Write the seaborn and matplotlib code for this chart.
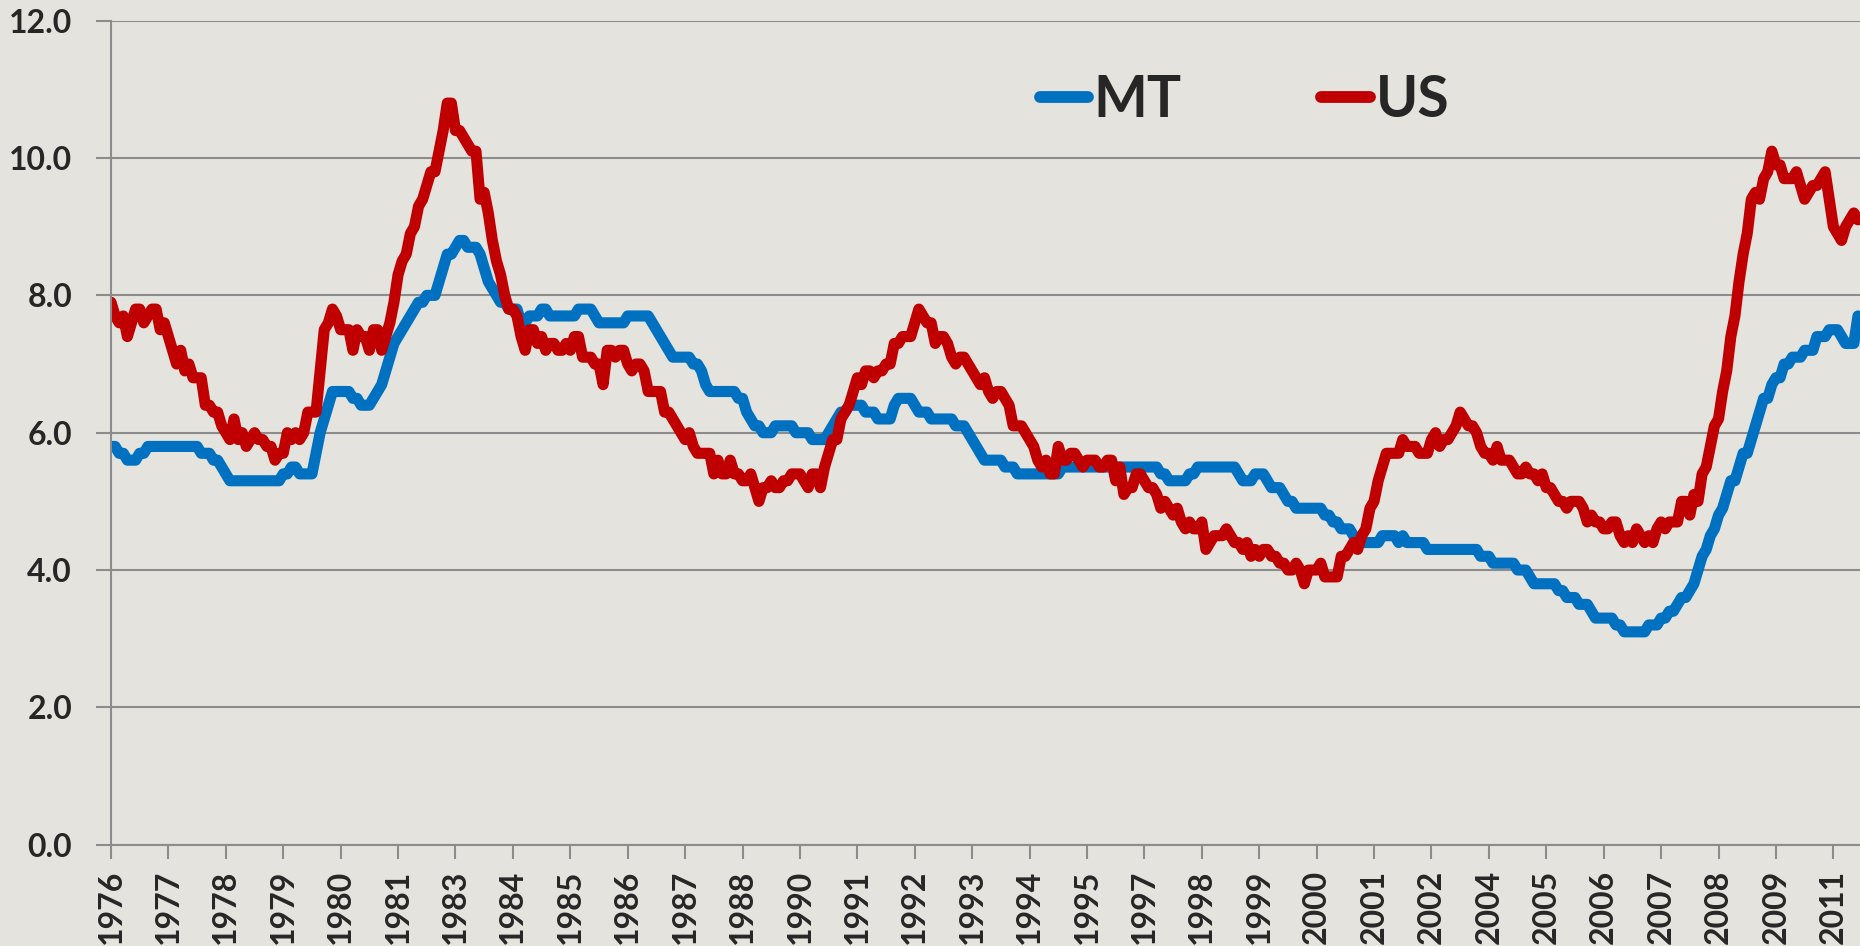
import numpy as np
import pandas as pd
import matplotlib
matplotlib.use("Agg")
import matplotlib.pyplot as plt
import seaborn as sns
from matplotlib.lines import Line2D

# monthly unemployment rate, Jan 1976 .. Jul 2011
mt = [
    5.8, 5.8, 5.7, 5.7, 5.6, 5.6, 5.6, 5.7, 5.7, 5.8, 5.8, 5.8,  # 1976
    5.8, 5.8, 5.8, 5.8, 5.8, 5.8, 5.8, 5.8, 5.8, 5.8, 5.7, 5.7,  # 1977
    5.7, 5.6, 5.6, 5.5, 5.4, 5.3, 5.3, 5.3, 5.3, 5.3, 5.3, 5.3,  # 1978
    5.3, 5.3, 5.3, 5.3, 5.3, 5.3, 5.4, 5.4, 5.5, 5.5, 5.4, 5.4,  # 1979
    5.4, 5.4, 5.7, 6.0, 6.2, 6.4, 6.6, 6.6, 6.6, 6.6, 6.6, 6.5,  # 1980
    6.5, 6.4, 6.4, 6.4, 6.5, 6.6, 6.7, 6.9, 7.1, 7.3, 7.4, 7.5,  # 1981
    7.6, 7.7, 7.8, 7.9, 7.9, 8.0, 8.0, 8.0, 8.2, 8.4, 8.6, 8.6,  # 1982
    8.7, 8.8, 8.8, 8.7, 8.7, 8.7, 8.6, 8.4, 8.2, 8.1, 8.0, 7.9,  # 1983
    7.9, 7.8, 7.8, 7.8, 7.6, 7.6, 7.7, 7.7, 7.7, 7.8, 7.8, 7.7,  # 1984
    7.7, 7.7, 7.7, 7.7, 7.7, 7.7, 7.8, 7.8, 7.8, 7.8, 7.7, 7.6,  # 1985
    7.6, 7.6, 7.6, 7.6, 7.6, 7.6, 7.7, 7.7, 7.7, 7.7, 7.7, 7.7,  # 1986
    7.6, 7.5, 7.4, 7.3, 7.2, 7.1, 7.1, 7.1, 7.1, 7.1, 7.0, 7.0,  # 1987
    6.9, 6.7, 6.6, 6.6, 6.6, 6.6, 6.6, 6.6, 6.6, 6.5, 6.5, 6.3,  # 1988
    6.2, 6.1, 6.1, 6.0, 6.0, 6.0, 6.1, 6.1, 6.1, 6.1, 6.1, 6.0,  # 1989
    6.0, 6.0, 6.0, 5.9, 5.9, 5.9, 5.9, 6.0, 6.1, 6.2, 6.3, 6.3,  # 1990
    6.4, 6.4, 6.4, 6.4, 6.3, 6.3, 6.3, 6.2, 6.2, 6.2, 6.2, 6.4,  # 1991
    6.5, 6.5, 6.5, 6.5, 6.4, 6.3, 6.3, 6.3, 6.2, 6.2, 6.2, 6.2,  # 1992
    6.2, 6.2, 6.1, 6.1, 6.1, 6.0, 5.9, 5.8, 5.7, 5.6, 5.6, 5.6,  # 1993
    5.6, 5.6, 5.5, 5.5, 5.5, 5.4, 5.4, 5.4, 5.4, 5.4, 5.4, 5.4,  # 1994
    5.4, 5.4, 5.4, 5.4, 5.5, 5.5, 5.5, 5.5, 5.5, 5.5, 5.5, 5.5,  # 1995
    5.5, 5.5, 5.5, 5.5, 5.5, 5.5, 5.5, 5.5, 5.5, 5.5, 5.5, 5.5,  # 1996
    5.5, 5.5, 5.5, 5.5, 5.4, 5.4, 5.3, 5.3, 5.3, 5.3, 5.3, 5.4,  # 1997
    5.4, 5.5, 5.5, 5.5, 5.5, 5.5, 5.5, 5.5, 5.5, 5.5, 5.5, 5.4,  # 1998
    5.3, 5.3, 5.3, 5.4, 5.4, 5.4, 5.3, 5.2, 5.2, 5.2, 5.1, 5.0,  # 1999
    5.0, 4.9, 4.9, 4.9, 4.9, 4.9, 4.9, 4.9, 4.8, 4.8, 4.7, 4.7,  # 2000
    4.6, 4.6, 4.6, 4.5, 4.4, 4.4, 4.4, 4.4, 4.4, 4.4, 4.5, 4.5,  # 2001
    4.5, 4.5, 4.4, 4.5, 4.4, 4.4, 4.4, 4.4, 4.4, 4.3, 4.3, 4.3,  # 2002
    4.3, 4.3, 4.3, 4.3, 4.3, 4.3, 4.3, 4.3, 4.3, 4.3, 4.2, 4.2,  # 2003
    4.2, 4.1, 4.1, 4.1, 4.1, 4.1, 4.1, 4.0, 4.0, 4.0, 3.9, 3.8,  # 2004
    3.8, 3.8, 3.8, 3.8, 3.8, 3.7, 3.7, 3.6, 3.6, 3.6, 3.5, 3.5,  # 2005
    3.5, 3.4, 3.3, 3.3, 3.3, 3.3, 3.3, 3.2, 3.2, 3.1, 3.1, 3.1,  # 2006
    3.1, 3.1, 3.1, 3.2, 3.2, 3.2, 3.3, 3.3, 3.4, 3.4, 3.5, 3.6,  # 2007
    3.6, 3.7, 3.8, 4.0, 4.2, 4.3, 4.5, 4.6, 4.8, 4.9, 5.1, 5.3,  # 2008
    5.3, 5.5, 5.7, 5.7, 5.9, 6.1, 6.3, 6.5, 6.5, 6.7, 6.8, 6.8,  # 2009
    7.0, 7.0, 7.1, 7.1, 7.1, 7.2, 7.2, 7.2, 7.4, 7.4, 7.4, 7.5,  # 2010
    7.5, 7.5, 7.4, 7.3, 7.3, 7.3, 7.7,                           # 2011
]

us = [
    7.9, 7.7, 7.6, 7.7, 7.4, 7.6, 7.8, 7.8, 7.6, 7.7, 7.8, 7.8,  # 1976
    7.5, 7.6, 7.4, 7.2, 7.0, 7.2, 6.9, 7.0, 6.8, 6.8, 6.8, 6.4,  # 1977
    6.4, 6.3, 6.3, 6.1, 6.0, 5.9, 6.2, 5.9, 6.0, 5.8, 5.9, 6.0,  # 1978
    5.9, 5.9, 5.8, 5.8, 5.6, 5.7, 5.7, 6.0, 5.9, 6.0, 5.9, 6.0,  # 1979
    6.3, 6.3, 6.3, 6.9, 7.5, 7.6, 7.8, 7.7, 7.5, 7.5, 7.5, 7.2,  # 1980
    7.5, 7.4, 7.4, 7.2, 7.5, 7.5, 7.2, 7.4, 7.6, 7.9, 8.3, 8.5,  # 1981
    8.6, 8.9, 9.0, 9.3, 9.4, 9.6, 9.8, 9.8, 10.1, 10.4, 10.8, 10.8,  # 1982
    10.4, 10.4, 10.3, 10.2, 10.1, 10.1, 9.4, 9.5, 9.2, 8.8, 8.5, 8.3,  # 1983
    8.0, 7.8, 7.8, 7.7, 7.4, 7.2, 7.5, 7.5, 7.3, 7.4, 7.2, 7.3,  # 1984
    7.3, 7.2, 7.2, 7.3, 7.2, 7.4, 7.4, 7.1, 7.1, 7.1, 7.0, 7.0,  # 1985
    6.7, 7.2, 7.2, 7.1, 7.2, 7.2, 7.0, 6.9, 7.0, 7.0, 6.9, 6.6,  # 1986
    6.6, 6.6, 6.6, 6.3, 6.3, 6.2, 6.1, 6.0, 5.9, 6.0, 5.8, 5.7,  # 1987
    5.7, 5.7, 5.7, 5.4, 5.6, 5.4, 5.4, 5.6, 5.4, 5.4, 5.3, 5.3,  # 1988
    5.4, 5.2, 5.0, 5.2, 5.2, 5.3, 5.2, 5.2, 5.3, 5.3, 5.4, 5.4,  # 1989
    5.4, 5.3, 5.2, 5.4, 5.4, 5.2, 5.5, 5.7, 5.9, 5.9, 6.2, 6.3,  # 1990
    6.4, 6.6, 6.8, 6.7, 6.9, 6.9, 6.8, 6.9, 6.9, 7.0, 7.0, 7.3,  # 1991
    7.3, 7.4, 7.4, 7.4, 7.6, 7.8, 7.7, 7.6, 7.6, 7.3, 7.4, 7.4,  # 1992
    7.3, 7.1, 7.0, 7.1, 7.1, 7.0, 6.9, 6.8, 6.7, 6.8, 6.6, 6.5,  # 1993
    6.6, 6.6, 6.5, 6.4, 6.1, 6.1, 6.1, 6.0, 5.9, 5.8, 5.6, 5.5,  # 1994
    5.6, 5.4, 5.4, 5.8, 5.6, 5.6, 5.7, 5.7, 5.6, 5.5, 5.6, 5.6,  # 1995
    5.6, 5.5, 5.5, 5.6, 5.6, 5.3, 5.5, 5.1, 5.2, 5.2, 5.4, 5.4,  # 1996
    5.3, 5.2, 5.2, 5.1, 4.9, 5.0, 4.9, 4.8, 4.9, 4.7, 4.6, 4.7,  # 1997
    4.6, 4.6, 4.7, 4.3, 4.4, 4.5, 4.5, 4.5, 4.6, 4.5, 4.4, 4.4,  # 1998
    4.3, 4.4, 4.2, 4.3, 4.2, 4.3, 4.3, 4.2, 4.2, 4.1, 4.1, 4.0,  # 1999
    4.0, 4.1, 4.0, 3.8, 4.0, 4.0, 4.0, 4.1, 3.9, 3.9, 3.9, 3.9,  # 2000
    4.2, 4.2, 4.3, 4.4, 4.3, 4.5, 4.6, 4.9, 5.0, 5.3, 5.5, 5.7,  # 2001
    5.7, 5.7, 5.7, 5.9, 5.8, 5.8, 5.8, 5.7, 5.7, 5.7, 5.9, 6.0,  # 2002
    5.8, 5.9, 5.9, 6.0, 6.1, 6.3, 6.2, 6.1, 6.1, 6.0, 5.8, 5.7,  # 2003
    5.7, 5.6, 5.8, 5.6, 5.6, 5.6, 5.5, 5.4, 5.4, 5.5, 5.4, 5.4,  # 2004
    5.3, 5.4, 5.2, 5.2, 5.1, 5.0, 5.0, 4.9, 5.0, 5.0, 5.0, 4.9,  # 2005
    4.7, 4.8, 4.7, 4.7, 4.6, 4.6, 4.7, 4.7, 4.5, 4.4, 4.5, 4.4,  # 2006
    4.6, 4.5, 4.4, 4.5, 4.4, 4.6, 4.7, 4.6, 4.7, 4.7, 4.7, 5.0,  # 2007
    5.0, 4.8, 5.1, 5.0, 5.4, 5.5, 5.8, 6.1, 6.2, 6.6, 6.9, 7.4,  # 2008
    7.7, 8.2, 8.6, 8.9, 9.4, 9.5, 9.4, 9.7, 9.8, 10.1, 9.9, 9.9,  # 2009
    9.7, 9.7, 9.7, 9.8, 9.6, 9.4, 9.5, 9.6, 9.6, 9.7, 9.8, 9.4,  # 2010
    9.0, 8.9, 8.8, 9.0, 9.1, 9.2, 9.1,                           # 2011
]

series_names = ["MT", "US"]
series_colors = {"MT": "#0070C0", "US": "#C00000"}

# one label every 14 months, as in the original category axis
tick_step = 14
x_labels = ["1976", "1977", "1978", "1979", "1980", "1981", "1983", "1984",
            "1985", "1986", "1987", "1988", "1990", "1991", "1992", "1993",
            "1994", "1995", "1997", "1998", "1999", "2000", "2001", "2002",
            "2004", "2005", "2006", "2007", "2008", "2009", "2011"]
y_ticks = [0, 2, 4, 6, 8, 10, 12]
y_labels = ["0.0", "2.0", "4.0", "6.0", "8.0", "10.0", "12.0"]

df = pd.DataFrame({"month": np.arange(len(us)), "MT": mt, "US": us})
df_long = df.melt(id_vars="month", var_name="series", value_name="rate")

bg = "#E4E3DD"
grid_col = "#8C8C8C"

sns.set_style("whitegrid", {"axes.facecolor": bg, "figure.facecolor": bg,
                            "grid.color": grid_col})
plt.rcParams["font.family"] = ["Lato", "DejaVu Sans"]
plt.rcParams["font.weight"] = "bold"

fig = plt.figure(figsize=(18.6, 9.46), dpi=100)
ax = fig.add_axes([111 / 1860, 101.3 / 946, 1749 / 1860, 824 / 946])

sns.lineplot(data=df_long, x="month", y="rate", hue="series",
             hue_order=series_names, palette=series_colors,
             linewidth=8, legend=False, ax=ax)
for ln in ax.lines:
    ln.set_solid_joinstyle("round")
    ln.set_solid_capstyle("round")

ax.set_xlim(0, 426.5)
ax.set_ylim(0, 12)
ax.set_xticks(np.arange(len(x_labels)) * tick_step)
ax.set_xticklabels(x_labels, rotation=90, fontweight="bold")
ax.set_yticks(y_ticks)
ax.set_yticklabels(y_labels, fontweight="bold")
ax.set_xlabel("")
ax.set_ylabel("")

ax.xaxis.grid(False)
ax.yaxis.grid(True, color=grid_col, linewidth=1.5)
ax.set_axisbelow(True)
for side in ["top", "right"]:
    ax.spines[side].set_visible(False)
for side in ["left", "bottom"]:
    ax.spines[side].set_color(grid_col)
    ax.spines[side].set_linewidth(1.5)

ax.tick_params(axis="y", length=11, width=1.5, color=grid_col, pad=17,
               labelsize=23, left=True)
ax.tick_params(axis="x", length=10, width=1.5, color=grid_col, pad=8,
               labelsize=23, bottom=True)

handles = [Line2D([], [], color=series_colors[s], lw=8.5,
                  solid_capstyle="round") for s in series_names]
fig.legend(handles, series_names, loc="center", bbox_to_anchor=(0.669, 0.8936),
           ncol=2, frameon=False, prop={"size": 41, "weight": "bold"},
           handlelength=0.85, handletextpad=0.1, columnspacing=2.45)

fig.savefig("out.png", dpi=100, facecolor=bg)
